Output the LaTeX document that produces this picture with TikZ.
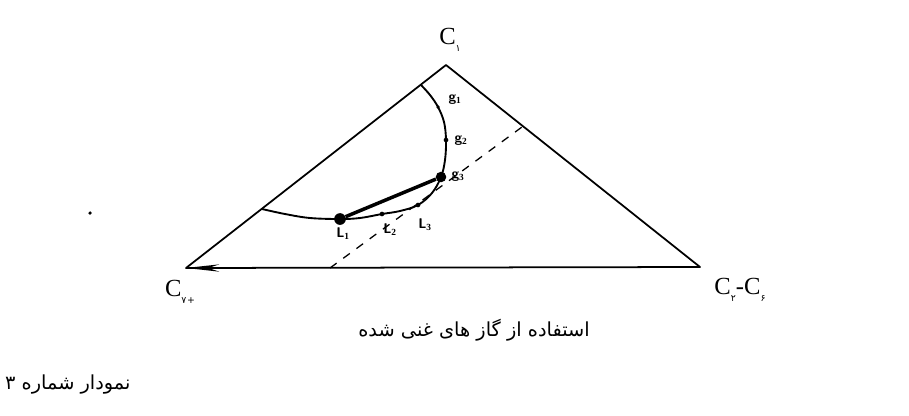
\documentclass[tikz,border=0pt]{standalone}
\usepackage{fontspec}
\setmainfont{Liberation Serif}
\newfontfamily\arabicfont[Script=Arabic]{DejaVu Sans}
\TeXXeTstate=1
\usetikzlibrary{arrows.meta}
\newcommand{\fasub}[1]{\raisebox{-0.3em}{\arabicfont\fontsize{8}{9}\selectfont #1}}
\begin{document}
\begin{tikzpicture}[x=0.03cm,y=-0.03cm,
  edge/.style={line width=1.5pt,line cap=round,line join=round},
  dashline/.style={line width=1.1pt,dash pattern=on 7pt off 7pt},
  pt/.style={circle,fill=black,inner sep=0pt,minimum size=#1},
  clabel/.style={font=\fontsize{21}{23}\selectfont,inner sep=0pt},
  hlabel/.style={font=\sffamily\bfseries\fontsize{12}{13}\selectfont,inner sep=0pt},
  fa/.style={font=\arabicfont\fontsize{16.5}{18}\selectfont,inner sep=0pt}]
\useasboundingbox[fill=white] (0,0) rectangle (909,415);
% vertices
\coordinate (top) at (446,65);
\coordinate (left) at (186,268);
\coordinate (right) at (700,267);
\coordinate (dA) at (330,268);
\coordinate (dB) at (522,127);
\coordinate (arrA) at (225,268);
% triangle
\draw[edge] (left) -- (top) -- (right) -- cycle;
\draw[line width=1.5pt,-{Stealth[length=1cm,width=0.22cm]}] (arrA) -- (left);
% dashed line
\draw[dashline] (dA) -- (dB);
% binodal curve
\draw[line width=1.6pt] plot[smooth,tension=0.6] coordinates {(421,85) (430,95) (438,107) (444,122) (446,140) (445,160) (441,177) (432,193) (418,205) (400,211) (382,214) (360,218) (340,219) (310,218) (285,214) (262,209)};
% points
\node[pt=3pt] (g1) at (438,107) {};
\node[pt=4pt] (g2) at (446,140) {};
\node[pt=9pt] (g3) at (441,177) {};
\node[pt=4pt] (L3) at (418,205) {};
\node[pt=4pt] (L2) at (382,214) {};
\node[pt=10pt] (L1) at (340,219) {};
% tie line
\draw[line width=3pt] (L1) -- (g3);
% labels
\node[hlabel] (lg1) at (455,100) {g$_{\mathbf 1}$};
\node[hlabel] (lg2) at (461,141) {g$_{\mathbf 2}$};
\node[hlabel] (lg3) at (458,177) {g$_{\mathbf 3}$};
\node[hlabel] (lL1) at (343,234) {L$_{\mathbf 1}$};
\node[hlabel] (lL2) at (390,230) {L$_{\mathbf 2}$};
\node[hlabel] (lL3) at (425,225) {L$_{\mathbf 3}$};
\node[clabel] (c1) at (450,40) {C\fasub{۱}};
\node[clabel] (c7) at (180,292) {C\fasub{۷\kern0.5pt+}};
\node[clabel] (c26) at (740,290) {C\fasub{۲}-C\fasub{۶}};
% stray dot
\node[pt=3pt] (dot) at (90,213) {};
% captions
\node[fa] (cap) at (474,330) {\beginR استفاده از گاز های غنی شده\endR};
\node[fa,anchor=west] (num) at (5,385) {\beginR نمودار شماره ۳\endR};
\end{tikzpicture}
\end{document}
